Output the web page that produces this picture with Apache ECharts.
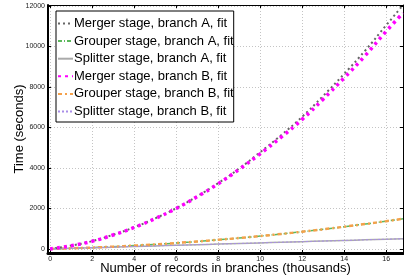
<!DOCTYPE html>
<html>
<head>
<meta charset="utf-8">
<script src="https://cdn.jsdelivr.net/npm/echarts@6/dist/echarts.min.js"></script>
<style>
  html, body { margin: 0; padding: 0; background: #fff; }
  #chart { width: 404px; height: 280px; }
</style>
</head>
<body>
<div id="chart"></div>
<script>
const records = [0, 1, 2, 3, 4, 5, 6, 7, 8, 9, 10, 11, 12, 13, 14, 15, 16, 16.8]
const mergerA = [0, 165, 385, 700, 1070, 1510, 2010, 2600, 3250, 3970, 4780, 5620, 6530, 7560, 8650, 9800, 11050, 12050]
const grouperA = [0, 30, 68, 113, 166, 226, 293, 368, 450, 539, 636, 740, 851, 970, 1097, 1231, 1372, 1490]
const splitterA = [0, 30, 60, 90, 120, 150, 180, 210, 240, 270, 300, 330, 360, 390, 420, 450, 480, 504]
const mergerB = [0, 160, 380, 690, 1060, 1500, 2000, 2580, 3220, 3930, 4700, 5520, 6400, 7400, 8450, 9550, 10750, 11650]
const grouperB = [0, 30, 68, 113, 166, 226, 293, 368, 450, 539, 636, 740, 851, 970, 1097, 1231, 1372, 1490]
const splitterB = [0, 30, 60, 90, 120, 150, 180, 210, 240, 270, 300, 330, 360, 390, 420, 450, 480, 504]
const xTicks = [0, 2, 4, 6, 8, 10, 12, 14, 16]
const yTicks = [0, 2000, 4000, 6000, 8000, 10000, 12000]

const font = 'Liberation Sans, Arial, sans-serif'
const pts = ys => records.map((x, i) => [x, ys[i]])

const chart = echarts.init(document.getElementById('chart'), null, { renderer: 'canvas' })

const mkLine = (name, ys, color, width, type, z) => ({
  name,
  type: 'line',
  data: pts(ys),
  smooth: true,
  showSymbol: false,
  symbol: 'none',
  z,
  lineStyle: { color, width, type },
  itemStyle: { color }
})

const baseAxis = {
  axisTick: { inside: true, length: 3, lineStyle: { color: '#000' } },
  splitLine: { show: false }
}

chart.setOption({
  animation: false,
  backgroundColor: '#fff',
  textStyle: { fontFamily: font },
  grid: { left: 48, right: 1, top: 5, bottom: 27 },
  legend: {
    orient: 'vertical',
    left: 56,
    top: 11,
    padding: [6, 0, 4, 1],
    itemGap: 4.6,
    itemWidth: 15,
    itemHeight: 10,
    backgroundColor: '#fff',
    borderColor: '#000',
    borderWidth: 1,
    borderRadius: 0,
    itemStyle: { opacity: 0 },
    textStyle: { fontSize: 13, color: '#000', fontFamily: font, padding: [0, 0, 0, -4] },
    data: ['Merger stage, branch A, fit', 'Grouper stage, branch A, fit', 'Splitter stage, branch A, fit',
      'Merger stage, branch B, fit', 'Grouper stage, branch B, fit', 'Splitter stage, branch B, fit']
  },
  xAxis: [
    {
      ...baseAxis,
      type: 'value',
      min: -0.1,
      max: 16.8,
      name: 'Number of records in branches (thousands)',
      nameLocation: 'middle',
      nameGap: 9,
      nameMoveOverlap: false,
      nameTextStyle: { fontSize: 13, color: '#000', fontFamily: font, verticalAlign: 'top' },
      axisLine: { onZero: false, lineStyle: { color: '#000', width: 3 } },
      axisTick: { ...baseAxis.axisTick, customValues: xTicks },
      axisLabel: { customValues: xTicks, fontSize: 7, color: '#222', margin: 3 },
      splitLine: { show: true, lineStyle: { color: '#c4c4c4', type: [1, 2], width: 1 } }
    },
    {
      ...baseAxis,
      type: 'value',
      position: 'top',
      min: -0.1,
      max: 16.8,
      axisLine: { onZero: false, lineStyle: { color: '#000', width: 1 } },
      axisTick: { ...baseAxis.axisTick, customValues: xTicks },
      axisLabel: { show: false }
    }
  ],
  yAxis: [
    {
      ...baseAxis,
      type: 'value',
      min: -200,
      max: 12050,
      name: 'Time (seconds)',
      nameLocation: 'middle',
      nameGap: 22,
      nameMoveOverlap: false,
      nameTextStyle: { fontSize: 13, color: '#000', fontFamily: font },
      axisLine: { show: true, onZero: false, lineStyle: { color: '#000', width: 2 } },
      axisTick: { ...baseAxis.axisTick, customValues: yTicks },
      axisLabel: { customValues: yTicks, fontSize: 7, color: '#222', margin: 3, formatter: v => String(v) },
      splitLine: { show: true, lineStyle: { color: '#c4c4c4', type: [1, 2], width: 1 } }
    },
    {
      ...baseAxis,
      type: 'value',
      position: 'right',
      min: -200,
      max: 12050,
      axisLine: { show: true, onZero: false, lineStyle: { color: '#000', width: 1 } },
      axisTick: { ...baseAxis.axisTick, customValues: yTicks },
      axisLabel: { show: false }
    }
  ],
  series: [
    mkLine('Merger stage, branch A, fit', mergerA, '#666', 2, [2, 3], 3),
    mkLine('Grouper stage, branch A, fit', grouperA, '#5cb85c', 1.5, [4, 2, 1, 2], 2),
    mkLine('Splitter stage, branch A, fit', splitterA, '#aaa', 1.5, 'solid', 2),
    mkLine('Merger stage, branch B, fit', mergerB, '#ff00ff', 3.5, [3, 4], 4),
    mkLine('Grouper stage, branch B, fit', grouperB, '#f5a04a', 2.5, [4, 3, 2, 3], 3),
    mkLine('Splitter stage, branch B, fit', splitterB, '#a98ee8', 1, [2, 2], 3)
  ]
})
</script>
</body>
</html>
